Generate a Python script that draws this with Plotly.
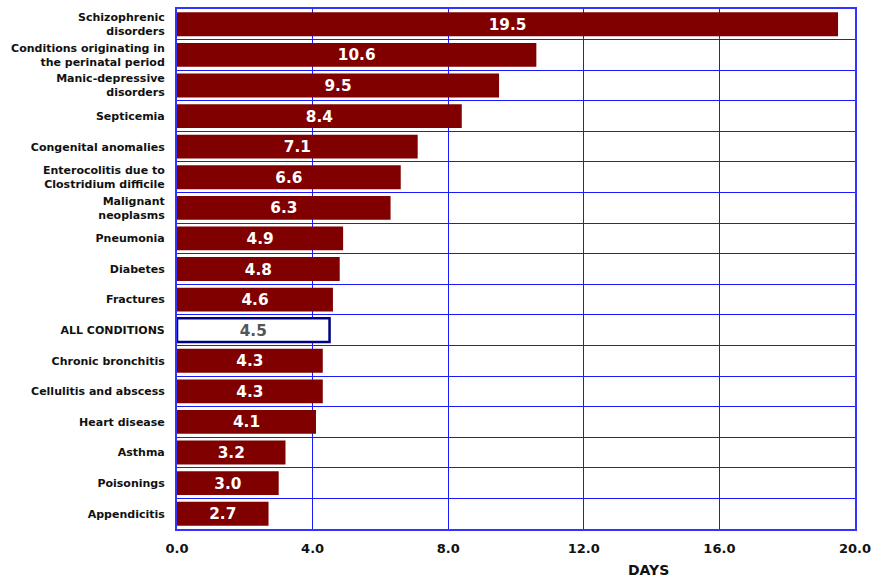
import plotly.graph_objects as go

categories = [
    "Schizophrenic<br>disorders",
    "Conditions originating in<br>the perinatal period",
    "Manic-depressive<br>disorders",
    "Septicemia",
    "Congenital anomalies",
    "Enterocolitis due to<br>Clostridium difficile",
    "Malignant<br>neoplasms",
    "Pneumonia",
    "Diabetes",
    "Fractures",
    "ALL CONDITIONS",
    "Chronic bronchitis",
    "Cellulitis and abscess",
    "Heart disease",
    "Asthma",
    "Poisonings",
    "Appendicitis",
]
values = [19.5, 10.6, 9.5, 8.4, 7.1, 6.6, 6.3, 4.9, 4.8, 4.6, 4.5, 4.3, 4.3, 4.1, 3.2, 3.0, 2.7]
x_ticks = [0, 4, 8, 12, 16, 20]

n = len(categories)
ypos = list(range(n))
highlight = "ALL CONDITIONS"
fills = ["#ffffff" if c == highlight else "#800000" for c in categories]
lines = ["#000080" if c == highlight else "#800000" for c in categories]
lwidths = [2.5 if c == highlight else 0 for c in categories]
tcolors = ["#555555" if c == highlight else "#ffffff" for c in categories]

fig = go.Figure(go.Bar(
    x=values, y=ypos, orientation="h", width=0.78,
    marker=dict(color=fills, line=dict(color=lines, width=lwidths)),
    text=[f"{v:.1f}" for v in values],
    textposition="inside", insidetextanchor="middle", textangle=0,
    textfont=dict(family="DejaVu Sans", size=18, color=tcolors, weight="bold"),
    cliponaxis=False, hoverinfo="skip",
))

fig.update_layout(
    width=871, height=577,
    margin=dict(l=177, r=16, t=9, b=48, autoexpand=False),
    paper_bgcolor="white", plot_bgcolor="white",
    showlegend=False,
    font=dict(family="DejaVu Sans", color="#111111"),
    xaxis=dict(
        range=[0, 20], tickvals=x_ticks, ticktext=[f"{t:.1f}" for t in x_ticks],
        showgrid=True, gridcolor="#1a1aff", gridwidth=1.2,
        showline=True, linecolor="#3333ff", linewidth=2, mirror=True,
        ticks="outside", ticklen=6, tickcolor="rgba(0,0,0,0)",
        ticklabeloverflow="allow",
        tickfont=dict(size=13, weight="bold", family="DejaVu Sans", color="#111111"),
        zeroline=False, automargin=False,
    ),
    yaxis=dict(
        range=[n - 0.5, -0.5], tickvals=ypos, ticktext=categories,
        showgrid=False, zeroline=False, automargin=False,
        showline=True, linecolor="#3333ff", linewidth=2, mirror=True,
        ticks="outside", ticklen=8, tickcolor="rgba(0,0,0,0)",
        tickfont=dict(size=11, weight="bold", family="DejaVu Sans", color="#111111"),
        minor=dict(tickmode="array", tickvals=[i + 0.5 for i in range(n - 1)],
                   showgrid=True, gridcolor="#1a1aff", gridwidth=1.2, ticks=""),
    ),
    annotations=[dict(text="DAYS", xref="paper", yref="paper", x=0.695, y=-0.079,
                      showarrow=False, xanchor="center", yanchor="middle",
                      font=dict(size=14, weight="bold", family="DejaVu Sans", color="#111111"))],
)

fig.write_html(
    "out.html",
    config={"displayModeBar": False},
    post_script="document.body.style.margin='0';document.body.style.overflow='hidden';",
)
